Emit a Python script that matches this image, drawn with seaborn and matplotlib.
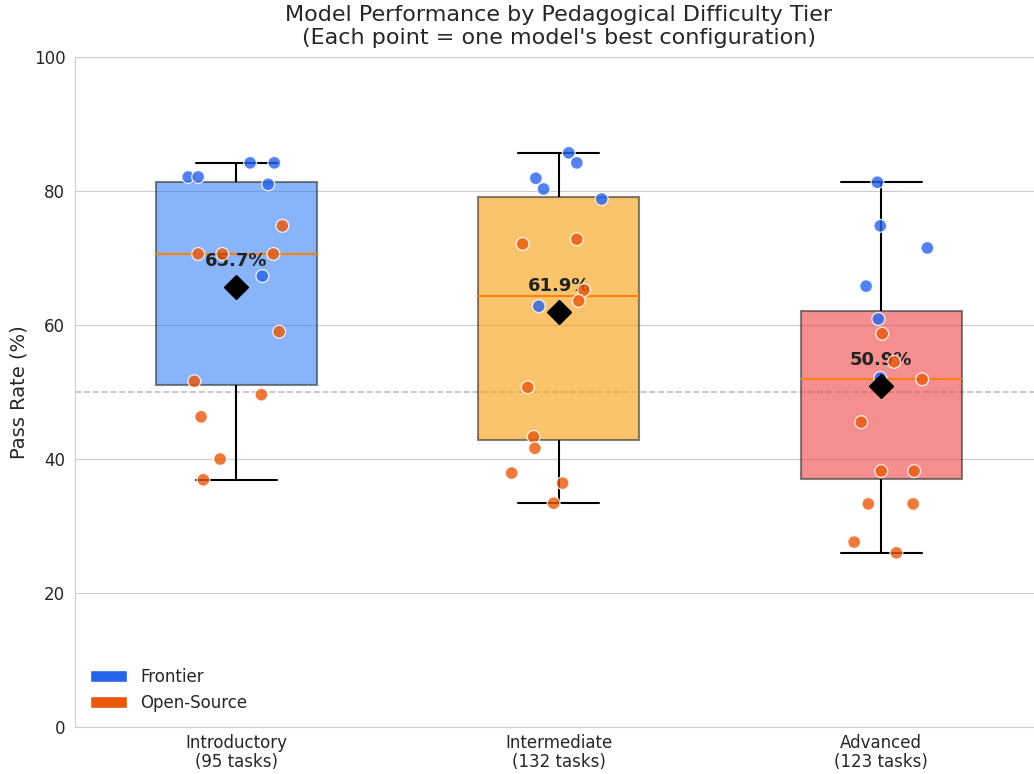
import pandas as pd
import numpy as np
import matplotlib
matplotlib.use("Agg")
import matplotlib.pyplot as plt
from matplotlib.patches import Patch
from matplotlib.colors import to_rgba
import seaborn as sns

sns.set_style("whitegrid")

# Tiers and task counts
tiers = ["Introductory", "Intermediate", "Advanced"]
task_counts = [95, 132, 123]
box_colors = ["#3B82F6", "#F59E0B", "#EF4444"]
group_colors = {"Frontier": "#2563EB", "Open-Source": "#EA580C"}

# Best-configuration pass rate per model
intro_frontier = [82.1, 82.1, 84.2, 84.2, 81.0, 67.3]
intro_open = [74.8, 70.6, 70.6, 70.6, 59.0, 51.6, 49.6, 46.3, 40.0, 36.9]
inter_frontier = [85.7, 84.2, 81.9, 80.3, 78.8, 62.8]
inter_open = [72.1, 72.8, 65.2, 63.6, 50.7, 43.3, 41.6, 37.9, 36.4, 33.4]
adv_frontier = [81.3, 74.8, 71.5, 65.8, 60.9, 52.1]
adv_open = [58.7, 54.5, 51.9, 45.5, 38.2, 38.2, 33.3, 33.3, 27.6, 26.0]

# horizontal jitter of each point (as drawn in the original)
intro_frontier_jit = [-0.149, -0.118, 0.043, 0.118, 0.099, 0.081]
intro_open_jit = [0.143, -0.118, -0.043, 0.115, 0.133, -0.130, 0.078, -0.109, -0.050, -0.102]
inter_frontier_jit = [0.031, 0.056, -0.071, -0.047, 0.133, -0.062]
inter_open_jit = [-0.112, 0.056, 0.078, 0.062, -0.096, -0.078, -0.074, -0.146, 0.012, -0.016]
adv_frontier_jit = [-0.012, -0.003, 0.143, -0.047, -0.009, -0.003]
adv_open_jit = [0.003, 0.040, 0.127, -0.062, 0.0, 0.102, -0.040, 0.099, -0.084, 0.047]

rows = []
groups = [
    (0, "Frontier", intro_frontier, intro_frontier_jit),
    (0, "Open-Source", intro_open, intro_open_jit),
    (1, "Frontier", inter_frontier, inter_frontier_jit),
    (1, "Open-Source", inter_open, inter_open_jit),
    (2, "Frontier", adv_frontier, adv_frontier_jit),
    (2, "Open-Source", adv_open, adv_open_jit),
]
for idx, grp, vals, jit in groups:
    for v, j in zip(vals, jit):
        rows.append({"tier": tiers[idx], "pos": idx + j, "rate": v, "group": grp})
df = pd.DataFrame(rows)
df["tier"] = pd.Categorical(df["tier"], categories=tiers, ordered=True)

fig = plt.figure(figsize=(10.34, 7.74), dpi=100)
ax = fig.add_axes([75 / 1034, 47 / 774, 967.5 / 1034, 670 / 774])

sns.boxplot(data=df, x="tier", y="rate", hue="tier", palette=box_colors,
            order=tiers, hue_order=tiers, width=0.5, saturation=1,
            linecolor="black", linewidth=1.5, showfliers=False, showmeans=True,
            meanprops=dict(marker="D", markerfacecolor="black",
                           markeredgecolor="black", markersize=12, zorder=10),
            medianprops=dict(color="#ff7f0e", linewidth=1.5),
            legend=False, zorder=3, ax=ax)

# caixas semi-transparentes com borda cinza
for patch, c in zip(ax.patches, box_colors):
    patch.set_alpha(None)
    patch.set_facecolor(to_rgba(c, 0.6))
    patch.set_edgecolor((0.2, 0.2, 0.2, 0.6))

means = df.groupby("tier", observed=False)["rate"].mean()
for i, t in enumerate(tiers):
    ax.text(i, means[t] + 3.9, f"{means[t]:.1f}%", ha="center", va="center",
            fontsize=13, fontweight="bold", color="#222222", zorder=4)

# pontos por modelo (acima das caixas e dos rótulos, abaixo da média)
sns.scatterplot(data=df, x="pos", y="rate", hue="group", palette=group_colors,
                s=85, alpha=0.8, edgecolor="white", linewidth=1,
                legend=False, zorder=5, ax=ax)

ax.axhline(50, color="gray", linestyle="--", linewidth=1.2, alpha=0.5, zorder=1)

ax.set_xlim(-0.5, 2.5)
ax.set_ylim(0, 100)
ax.set_xticks(range(3))
ax.set_xticklabels([f"{t}\n({n} tasks)" for t, n in zip(tiers, task_counts)],
                   fontsize=12, linespacing=1.05)
ax.tick_params(axis="x", pad=1.5)
ax.tick_params(axis="y", labelsize=12)
ax.set_xlabel("")
ax.set_ylabel("Pass Rate (%)", fontsize=14)
ax.set_title("Model Performance by Pedagogical Difficulty Tier\n"
             "(Each point = one model's best configuration)", fontsize=16, pad=9)

handles = [Patch(facecolor=c, label=k) for k, c in group_colors.items()]
ax.legend(handles=handles, loc="lower left", frameon=False, fontsize=12,
          handlelength=2.2)

fig.savefig("out.png", dpi=100)
